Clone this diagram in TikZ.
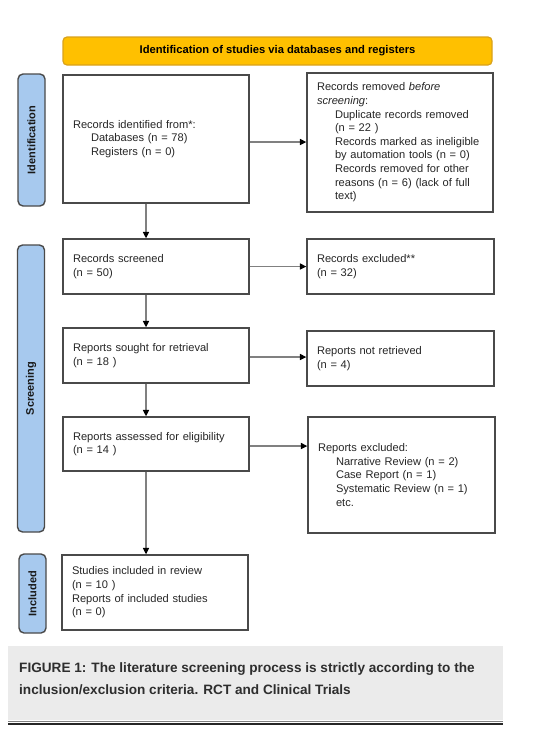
\documentclass[tikz,border=0pt]{standalone}
\usepackage{fontspec}
\setmainfont{Liberation Sans}
\usetikzlibrary{arrows.meta}
\definecolor{boxline}{HTML}{4A4A4A}
\definecolor{arrline}{HTML}{808080}
\definecolor{barfill}{HTML}{A7C9EE}
\definecolor{hdrfill}{HTML}{FFC000}
\definecolor{hdrline}{HTML}{D9A21B}
\definecolor{capfill}{HTML}{EBEBEB}
\definecolor{captext}{HTML}{2E2E2E}
\newcommand{\ind}{\hspace*{18pt}}
\tikzset{
  x=1pt, y=-1pt,
  flowbox/.style={draw=boxline, line width=1.3pt, fill=white, inner xsep=10pt, inner ysep=0pt,
    align=left, font=\fontsize{11.1}{13.6}\selectfont, text=black!85},
  sidebar/.style={draw=boxline, line width=1.4pt, fill=barfill, rounded corners=5pt,
    minimum width=27pt, inner sep=0pt},
  sidetext/.style={rotate=90, font=\bfseries\fontsize{11}{13}\selectfont, text=black!90},
  flowarrow/.style={draw=arrline, line width=1.4pt, -{Triangle[length=6.5pt,width=6pt,color=black]}},
}
\begin{document}
\begin{tikzpicture}
\useasboundingbox (0,0) rectangle (546,734);
% header
\node[draw=hdrline, line width=1.2pt, fill=hdrfill, rounded corners=4pt, minimum width=429pt, minimum height=28pt, inner sep=0pt,
  font=\bfseries\fontsize{11.2}{13}\selectfont] (hdr) at (277.5,51) {Identification of studies via databases and registers};
% side bars
\node[sidebar, minimum height=132pt] (idbar) at (31.5,140) {};
\node[sidetext] (idtxt) at (idbar) {Identification};
\node[sidebar, minimum height=287pt] (scrbar) at (31,388.5) {};
\node[sidetext] (scrtxt) at (scrbar) {Screening};
\node[sidebar, minimum height=79pt] (incbar) at (32.5,593.5) {};
\node[sidetext] (inctxt) at (incbar) {Included};
% left column
\node[flowbox, text width=166pt, minimum height=128pt] (b1) at (156,139)
  {Records identified from*:\\ \ind Databases (n = 78)\\ \ind Registers (n = 0)};
\node[flowbox, text width=166pt, minimum height=55pt] (scr) at (156,266.5)
  {Records screened\\(n = 50)};
\node[flowbox, text width=166pt, minimum height=55pt] (sought) at (156,355.5)
  {Reports sought for retrieval\\(n = 18 )};
\node[flowbox, text width=166pt, minimum height=54pt] (assess) at (156,444)
  {Reports assessed for eligibility\\(n = 14 )};
\node[flowbox, text width=166pt, minimum height=75pt] (inc) at (155,592.5)
  {Studies included in review\\(n = 10 )\\Reports of included studies\\(n = 0)};
% right column
\node[flowbox, text width=166pt, minimum height=139pt] (rem) at (400,142.5)
  {Records removed \textit{before}\\\textit{screening}:\\
   \ind Duplicate records removed\\ \ind (n = 22 )\\
   \ind\mbox{Records marked as ineligible}\\ \ind by automation tools (n = 0)\\
   \ind Records removed for other\\ \ind reasons (n = 6) (lack of full\\ \ind text)};
\node[flowbox, text width=167pt, minimum height=55pt] (exc) at (400.5,266.5)
  {Records excluded**\\(n = 32)};
\node[flowbox, text width=167pt, minimum height=55pt] (notret) at (400.5,358.5)
  {Reports not retrieved\\(n = 4)};
\node[flowbox, text width=167pt, minimum height=116pt] (repexc) at (401.5,475)
  {Reports excluded:\\ \ind Narrative Review (n = 2)\\ \ind Case Report (n = 1)\\
   \ind Systematic Review (n = 1)\\ \ind etc.};
% horizontal arrows
\draw[flowarrow] ([yshift=-3pt]b1.east) -- ([yshift=-3pt]b1.east -| rem.west);
\draw[flowarrow] (scr.east) -- (scr.east -| exc.west);
\draw[flowarrow] ([yshift=-1.5pt]sought.east) -- ([yshift=-1.5pt]sought.east -| notret.west);
\draw[flowarrow] ([yshift=-2pt]assess.east) -- ([yshift=-2pt]assess.east -| repexc.west);
% vertical arrows
\draw[flowarrow] ([xshift=-10pt]b1.south) -- ([xshift=-10pt]b1.south |- scr.north);
\draw[flowarrow] ([xshift=-10pt]scr.south) -- ([xshift=-10pt]scr.south |- sought.north);
\draw[flowarrow] ([xshift=-10pt]sought.south) -- ([xshift=-10pt]sought.south |- assess.north);
\draw[flowarrow] ([xshift=-10pt]assess.south) -- ([xshift=-10pt]assess.south |- inc.north);
% caption
\fill[capfill] (8,646) rectangle (503,720);
\node[anchor=west, align=left, inner sep=0pt, text=captext,
  font=\bfseries\fontsize{13.6}{22}\selectfont] (cap) at (19,679)
  {FIGURE 1: The literature screening process is strictly according to the\\inclusion/exclusion criteria. RCT and Clinical Trials};
\draw[gray, line width=1pt] (8,721) -- (503,721);
\draw[black!85, line width=2pt] (8,724) -- (503,724);
\end{tikzpicture}
\end{document}
